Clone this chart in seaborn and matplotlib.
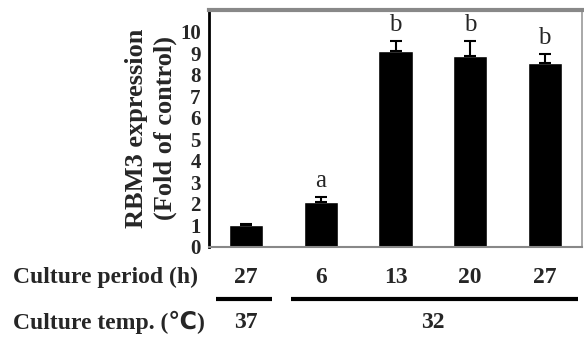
import matplotlib
matplotlib.use("Agg")
import matplotlib.pyplot as plt
import seaborn as sns
import numpy as np
import pandas as pd

# data
groups = ["37C 27h", "32C 6h", "32C 13h", "32C 20h", "32C 27h"]
expression = [1.0, 2.1, 9.1, 8.85, 8.55]
err_upper = [0.06, 0.2, 0.45, 0.7, 0.4]
sig_letters = ["", "a", "b", "b", "b"]
period_labels = ["27", "6", "13", "20", "27"]
temp_labels = ["37", "32"]

sns.set_theme(style="white")
plt.rcParams['font.family'] = ['Liberation Serif', 'DejaVu Sans']

df = pd.DataFrame({"group": groups, "expr": expression})

fig = plt.figure(figsize=(5.84, 3.40), dpi=100)
ax = fig.add_axes([209 / 584, 93 / 340, 373 / 584, 237 / 340])

sns.barplot(data=df, x="group", y="expr", color="black", width=0.46,
            errorbar=None, ax=ax, saturation=1)
x = np.arange(len(groups))
ax.errorbar(x, expression, yerr=[np.zeros(len(x)), err_upper], fmt="none",
            ecolor="black", elinewidth=1.5, capsize=4, capthick=1.5)

for xi, y, e, lab in zip(x, expression, err_upper, sig_letters):
    if lab:
        ax.annotate(lab, (xi, y + e), xytext=(0, 4), textcoords="offset points",
                    ha="center", va="bottom", fontsize=18)

ax.set_ylim(0, 11)
ax.set_xlim(-0.5, 4.5)
ax.set_yticks(range(0, 11))
ax.set_yticklabels([str(i) for i in range(0, 11)], fontweight="bold", fontsize=15)
ax.set_xticks([-0.5, 0.5, 1.5, 2.5, 3.5])
ax.set_xticklabels([])
ax.set_xlabel("")
ax.set_ylabel("RBM3 expression\n(Fold of control)", fontweight="bold",
              fontsize=19, linespacing=1.3, labelpad=2)

ax.tick_params(axis="y", direction="out", length=5, width=1.5, color="black", pad=1)
ax.tick_params(axis="x", direction="out", length=4, width=1.2, color="#888888")

for side in ["top", "right", "bottom", "left"]:
    ax.spines[side].set_visible(True)
ax.spines["left"].set_color("black")
ax.spines["left"].set_linewidth(2)
ax.spines["top"].set_color("#888888")
ax.spines["top"].set_linewidth(3)
ax.spines["right"].set_color("#999999")
ax.spines["right"].set_linewidth(1.2)
ax.spines["bottom"].set_color("#888888")
ax.spines["bottom"].set_linewidth(1.5)

# table below the axis
trans = ax.get_xaxis_transform()
row1 = -0.13
row_line = -0.219
row2 = -0.32
fs = 17
fig.text(13 / 584, 93 / 340 + row1 * 237 / 340, "Culture period (h)", ha="left",
         va="center", fontsize=fs, fontweight="bold")
fig.text(13 / 584, 93 / 340 + row2 * 237 / 340, "Culture temp. (\u2103)", ha="left",
         va="center", fontsize=fs, fontweight="bold")
for xi, lab in zip(x, period_labels):
    ax.text(xi, row1, lab, transform=trans, ha="center", va="center",
            fontsize=fs, fontweight="bold", clip_on=False)
ax.text(0, row2, temp_labels[0], transform=trans, ha="center", va="center",
        fontsize=fs, fontweight="bold", clip_on=False)
ax.text(2.5, row2, temp_labels[1], transform=trans, ha="center", va="center",
        fontsize=fs, fontweight="bold", clip_on=False)
ax.plot([-0.4, 0.35], [row_line, row_line], transform=trans, color="black", lw=3,
        clip_on=False, solid_capstyle="butt")
ax.plot([0.6, 4.45], [row_line, row_line], transform=trans, color="black", lw=3,
        clip_on=False, solid_capstyle="butt")

fig.savefig("out.png", dpi=100)
